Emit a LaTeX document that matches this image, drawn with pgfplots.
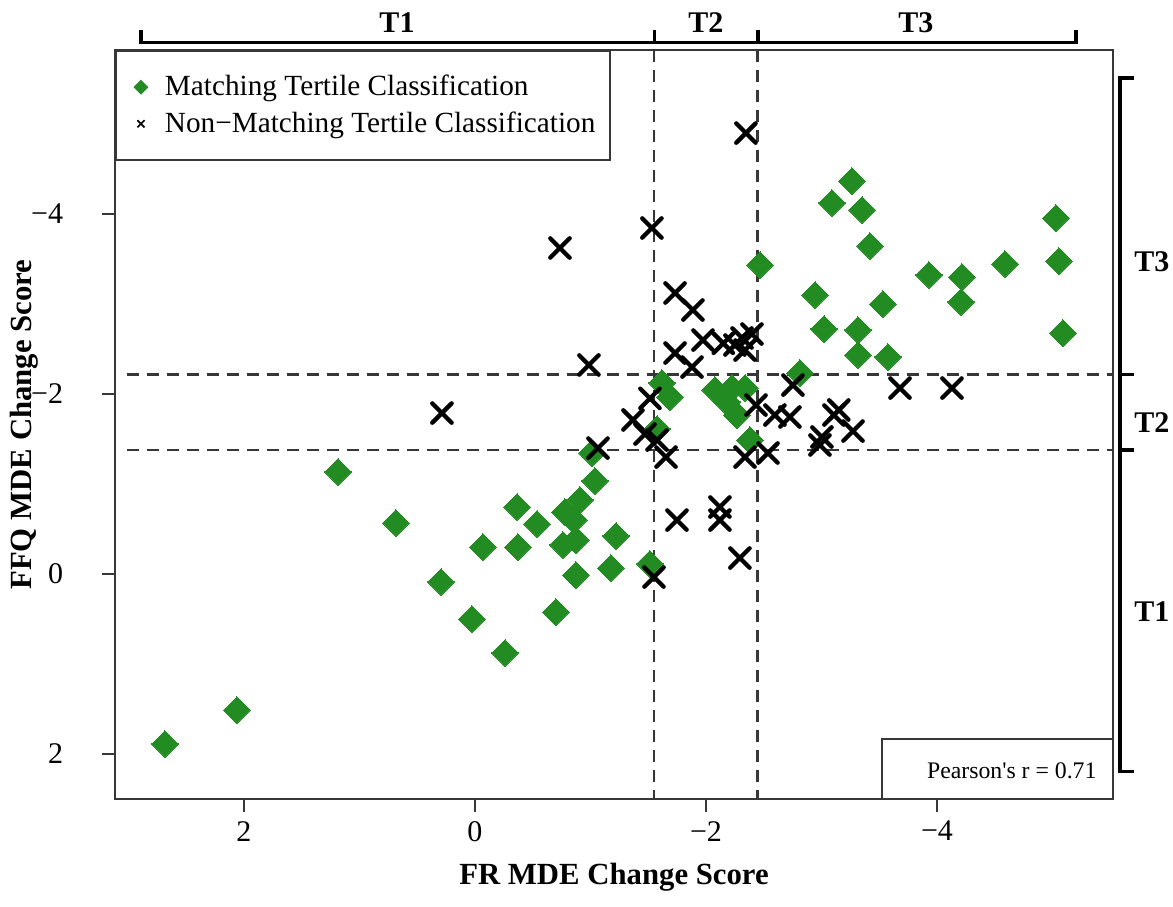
\documentclass[border=0pt]{standalone}
\usepackage{fontspec}
\setmainfont{Liberation Serif}
\usepackage{pgfplots}
\pgfplotsset{compat=1.18}
\definecolor{fgreen}{RGB}{34,139,34}
\definecolor{dgray}{RGB}{55,55,55}

\begin{document}
\begin{tikzpicture}
\useasboundingbox (0,0) rectangle (469.2pt,362.4pt);
\begin{axis}[
  at={(46pt,42.68pt)}, anchor=south west,
  scale only axis, width=399.2pt, height=299.72pt,
  x dir=reverse, y dir=reverse,
  xmin=-5.524, xmax=3.117, ymin=-5.817, ymax=2.509,
  xtick={-4,-2,0,2}, xticklabels={−4,−2,0,2},
  ytick={-4,-2,0,2}, yticklabels={−4,−2,0,2},
  tick align=outside, major tick length=5.2pt,
  xtick pos=bottom, ytick pos=left,
  tick style={line width=0.8pt, color=dgray},
  axis line style={line width=0.8pt, color=dgray},
  ticklabel style={font=\fontsize{12}{14}\selectfont},
  yticklabel style={anchor=east, xshift=-12pt},
  clip=false,
  legend style={at={(axis description cs:0,1)}, anchor=north west,
    draw=dgray, line width=0.8pt, fill=white,
    font=\fontsize{11.7}{14}\selectfont,
    inner xsep=4pt, inner ysep=7.6pt, row sep=0.9pt,
    cells={anchor=west}},
  legend cell align=left,
  legend image code/.code={%
    \path[draw=none, fill=none] (-6pt,0pt) -- (7.6pt,0pt);
    \draw[mark repeat=2, mark phase=2, #1] plot coordinates {(-1pt,0pt) (0pt,0pt) (1pt,0pt)};},
]
\addlegendimage{only marks, mark=square*, mark size=1.7pt, fgreen, mark options={rotate=45, fill=fgreen, draw=fgreen}}
\addlegendentry{Matching Tertile Classification}
\addlegendimage{only marks, mark=x, mark size=2pt, line width=0.7pt, black}
\addlegendentry{Non−Matching Tertile Classification}

% tertile cut-offs
\addplot[forget plot, dgray, line width=1pt, dash pattern=on 4.8pt off 3.2pt] coordinates {(-1.550,-5.817) (-1.550,2.509)};
\addplot[forget plot, dgray, line width=1pt, dash pattern=on 4.8pt off 3.2pt] coordinates {(-2.446,-5.817) (-2.446,2.509)};
\addplot[forget plot, dgray, line width=1pt, dash pattern=on 4.8pt off 3.2pt] coordinates {(3.01,-2.211) (-5.524,-2.211)};
\addplot[forget plot, dgray, line width=1pt, dash pattern=on 4.8pt off 3.2pt] coordinates {(3.01,-1.372) (-5.524,-1.372)};

% matching
\addplot[forget plot, only marks, fgreen, mark=square*, mark size=3.8pt, mark options={rotate=45, fill=fgreen, draw=fgreen, line width=0pt}] table {
x y
2.684 1.894
2.061 1.517
1.186 -1.128
0.684 -0.561
0.294 0.094
-0.069 -0.294
0.026 0.506
-0.260 0.883
-0.364 -0.739
-0.372 -0.294
-0.537 -0.550
-0.779 -0.683
-0.909 -0.817
-0.857 -0.594
-1.039 -1.028
-0.762 -0.317
-0.874 -0.372
-1.221 -0.417
-0.874 0.017
-1.177 -0.061
-1.515 -0.106
-0.701 0.428
-1.013 -1.339
-1.576 -1.606
-1.619 -2.117
-1.688 -1.961
-2.078 -2.039
-2.225 -2.061
-2.338 -2.061
-2.268 -1.761
-2.182 -1.906
-2.381 -1.483
-2.814 -2.228
-2.468 -3.428
-3.264 -4.361
-3.091 -4.117
-3.351 -4.039
-3.420 -3.639
-5.030 -3.950
-5.056 -3.472
-4.589 -3.439
-3.931 -3.317
-4.216 -3.294
-4.208 -3.017
-2.944 -3.094
-3.532 -2.994
-3.022 -2.717
-3.316 -2.706
-3.316 -2.428
-3.576 -2.406
-5.091 -2.672
};

% non-matching
\addplot[forget plot, only marks, mark=x, mark size=5.5pt, line width=1.7pt, black, line cap=round] table {
x y
-2.346 -4.894
-1.532 -3.839
-0.736 -3.617
-1.732 -3.117
-1.887 -2.928
-0.987 -2.317
0.286 -1.783
-1.732 -2.450
-1.974 -2.594
-1.879 -2.294
-2.251 -2.539
-2.150 -2.558
-2.312 -2.617
-2.398 -2.661
-2.338 -2.483
-1.515 -1.946
-1.368 -1.706
-1.472 -1.550
-1.576 -1.483
-1.654 -1.294
-1.065 -1.394
-2.433 -1.872
-2.597 -1.761
-2.727 -1.739
-2.753 -2.094
-3.108 -1.761
-3.150 -1.817
-3.273 -1.583
-3.004 -1.517
-2.987 -1.428
-2.537 -1.339
-2.338 -1.294
-3.680 -2.061
-4.130 -2.061
-1.749 -0.594
-2.121 -0.739
-2.121 -0.594
-2.294 -0.172
-1.550 0.039
};
\end{axis}

\begin{scope}[shift={(0pt,362.4pt)}, x=0.4pt, y=-0.4pt]
  % top bracket
  \draw[line width=1.4pt] (141,30) -- (141,42.5) -- (1076,42.5) -- (1076,30);
  \draw[line width=1.4pt] (654.5,30) -- (654.5,42.5);
  \draw[line width=1.4pt] (758,30) -- (758,42.5);
  \node[font=\bfseries\fontsize{12}{14}\selectfont] at (397,23) {T1};
  \node[font=\bfseries\fontsize{12}{14}\selectfont] at (706,23) {T2};
  \node[font=\bfseries\fontsize{12}{14}\selectfont] at (916,23) {T3};
  % right bracket
  \draw[line width=1.4pt] (1134,78) -- (1120,78) -- (1120,771.7) -- (1134,771.7);
  \draw[line width=1.4pt] (1120,374.5) -- (1134,374.5);
  \draw[line width=1.4pt] (1120,450) -- (1134,450);
  \node[font=\bfseries\fontsize{12}{14}\selectfont] at (1152,262) {T3};
  \node[font=\bfseries\fontsize{12}{14}\selectfont] at (1152,423) {T2};
  \node[font=\bfseries\fontsize{12}{14}\selectfont] at (1152,612) {T1};
  % pearson box
  \draw[line width=0.8pt, dgray, fill=white] (881.7,739.3) rectangle (1113,799.3);
  \node[anchor=east, font=\fontsize{9.5}{11}\selectfont, inner sep=0pt] at (1097,771) {Pearson\textquotesingle s r = 0.71};
  % axis titles
  \node[font=\bfseries\fontsize{12.3}{14}\selectfont] at (614,877) {FR MDE Change Score};
  \node[font=\bfseries\fontsize{12.3}{14}\selectfont, rotate=90] at (24,424.6) {FFQ MDE Change Score};
\end{scope}
\end{tikzpicture}
\end{document}
